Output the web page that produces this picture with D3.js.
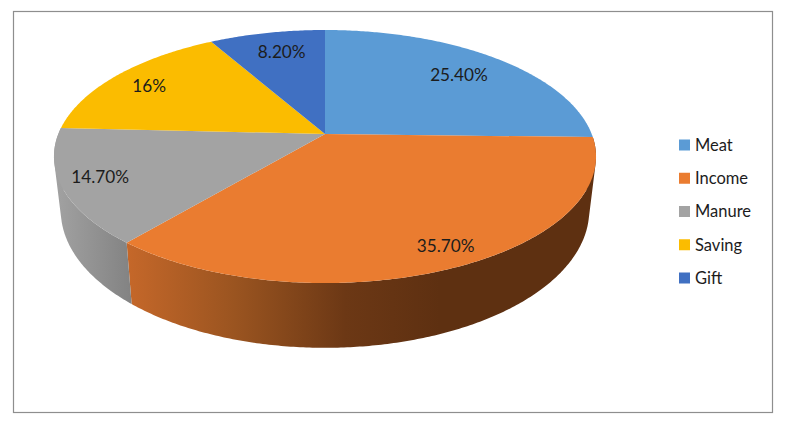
<!DOCTYPE html>
<html lang="en">
<head>
<meta charset="utf-8">
<title>Pie chart</title>
<script src="https://cdnjs.cloudflare.com/ajax/libs/d3/7.8.5/d3.min.js"></script>
<style>
html, body { margin: 0; padding: 0; background: #fff; }
svg { display: block; }
text { font-family: Lato, "Open Sans", sans-serif; fill: #1c1c1c; }
</style>
</head>
<body>
<script>
// values
var categories = ["Meat", "Income", "Manure", "Saving", "Gift"];
var shares = [25.4, 35.7, 14.7, 16, 8.2];
var shareLabels = ["25.40%", "35.70%", "14.70%", "16%", "8.20%"];
var sliceColors = ["#5b9bd5", "#ea7c30", "#a3a3a3", "#fbbc00", "#4070c2"];

var width = 788, height = 426;

var svg = d3.select("body").append("svg")
    .attr("width", width)
    .attr("height", height);

// frame
svg.append("rect")
    .attr("x", 13.5).attr("y", 11.5)
    .attr("width", 759).attr("height", 401)
    .attr("fill", "#fff")
    .attr("stroke", "#8e8e8e")
    .attr("stroke-width", 1.2);

var color = d3.scaleOrdinal().domain(categories).range(sliceColors);
var pie = d3.pie().sort(null).value(function(d, i) { return shares[i]; });
var arcs = pie(categories);

// the disc is tilted, so the back shrinks: pie angle -> screen goes through a perspective divide
var persp = 0.178;
var topFace = {cx: 325, cy: 134, rx: 266.7, ry: 122.5};
var bottomFace = {cx: 325, cy: 186, rx: 260, ry: 133};

function project(face, angle, r) {
    var u = r * Math.sin(angle), v = r * Math.cos(angle);
    var w = 1 + persp * v;
    return [face.cx + face.rx * u / w, face.cy - face.ry * v / w];
}

function rim(face, a0, a1) {
    var n = Math.max(2, Math.ceil((a1 - a0) / 0.01));
    return d3.range(n + 1).map(function(i) {
        return project(face, a0 + (a1 - a0) * i / n, 1);
    });
}

var line = d3.line();
var defs = svg.append("defs");

// side wall shading, dark towards the right like the original
function sideGradient(id, stops, x1, x2) {
    var g = defs.append("linearGradient")
        .attr("id", id)
        .attr("gradientUnits", "userSpaceOnUse")
        .attr("x1", x1).attr("y1", 0)
        .attr("x2", x2).attr("y2", 0);
    stops.forEach(function(s) {
        g.append("stop").attr("offset", s[0]).attr("stop-color", s[1]);
    });
    return "url(#" + id + ")";
}
var sideFill = {
    Income: sideGradient("side-income", [[0, "#c6682a"], [0.35, "#9a5420"], [0.7, "#6c3815"], [1, "#5e3011"]], 125, 440),
    Manure: sideGradient("side-manure", [[0, "#a2a2a2"], [1, "#838383"]], 55, 130)
};

// walls first, the top face covers what is behind
svg.append("g").selectAll("path")
    .data(arcs.filter(function(d) { return sideFill[d.data]; }))
    .enter().append("path")
    .attr("d", function(d) {
        var top = rim(topFace, d.startAngle, d.endAngle);
        var bottom = rim(bottomFace, d.startAngle, d.endAngle);
        // quads in one path, all wound the same way or the overlaps at the silhouette cancel out
        return d3.range(top.length - 1).map(function(i) {
            var quad = [top[i], top[i + 1], bottom[i + 1], bottom[i]];
            if (d3.polygonArea(quad) < 0) quad.reverse();
            return line(quad) + "Z";
        }).join("");
    })
    .attr("fill", function(d) { return sideFill[d.data]; });

// top face
svg.append("g").selectAll("path")
    .data(arcs)
    .enter().append("path")
    .attr("d", function(d) {
        return line([[topFace.cx, topFace.cy]].concat(rim(topFace, d.startAngle, d.endAngle))) + "Z";
    })
    .attr("fill", function(d) { return color(d.data); });

// data labels
var labelRadius = {Meat: 0.75, Income: 0.86, Manure: 0.86, Saving: 0.81, Gift: 0.79};
var labelShift = {Meat: [3, 0], Income: [11, 0], Manure: [-1, -2], Saving: [-5, 0], Gift: [4, 0]};

function labelPos(d) {
    var mid = (d.startAngle + d.endAngle) / 2;
    var p = project(topFace, mid, labelRadius[d.data]);
    return [p[0] + labelShift[d.data][0], p[1] + labelShift[d.data][1]];
}

svg.append("g").selectAll("text")
    .data(arcs)
    .enter().append("text")
    .attr("x", function(d) { return labelPos(d)[0]; })
    .attr("y", function(d) { return labelPos(d)[1]; })
    .attr("dy", "0.35em")
    .attr("text-anchor", "middle")
    .attr("font-size", 17.2)
    .text(function(d) { return shareLabels[d.index]; });

// legend
var legendY = d3.scalePoint().domain(categories).range([145, 278]);

var legend = svg.append("g").selectAll("g")
    .data(categories)
    .enter().append("g")
    .attr("transform", function(d) { return "translate(679," + legendY(d) + ")"; });

legend.append("rect")
    .attr("y", -5.5)
    .attr("width", 11)
    .attr("height", 11)
    .attr("fill", function(d) { return color(d); });

legend.append("text")
    .attr("x", 16)
    .attr("dy", "0.35em")
    .attr("font-size", 16.5)
    .text(function(d) { return d; });
</script>
</body>
</html>
